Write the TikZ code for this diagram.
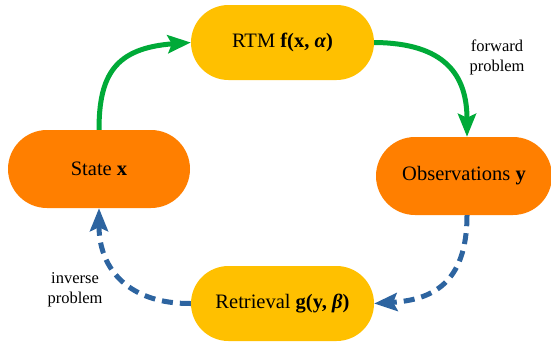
\documentclass[tikz,border=0pt]{standalone}
\usepackage{fontspec}
\setmainfont{Liberation Serif}
\usetikzlibrary{shapes.misc,arrows.meta}
\definecolor{gold}{HTML}{FFC000}
\definecolor{orng}{HTML}{FF7F00}
\definecolor{grn}{HTML}{00AA38}
\definecolor{blu}{HTML}{2D64A0}
\tikzset{
  pill/.style={rounded rectangle, draw=none, inner sep=0pt, font=\fontsize{20.5}{24}\selectfont},
  goldpill/.style={pill, fill=gold, minimum width=183pt, minimum height=75pt},
  orngpill/.style={pill, fill=orng, minimum height=78pt},
  fwd/.style={draw=grn, line width=5pt, -{Stealth[length=23pt,width=18pt,inset=4pt]}},
  inv/.style={draw=blu, line width=5pt, dash pattern=on 11pt off 7pt, -{Stealth[length=23pt,width=18pt,inset=4pt]}},
  lbl/.style={align=center, font=\fontsize{16.5}{20}\selectfont}
}
\begin{document}
\begin{tikzpicture}[x=1pt,y=-1pt]
\useasboundingbox (0,0) rectangle (551,346);
\node[goldpill] (R) at (282.5,42.5) {RTM \textbf{f(x,} \textbf{\textit{α}}\textbf{)}};
\node[goldpill] (T) at (282.5,303.5) {Retrieval \textbf{g(y,} \textbf{\textit{β}}\textbf{)}};
\node[orngpill, minimum width=182pt] (S) at (99,169) {State \textbf{x}};
\node[orngpill, minimum width=176pt] (O) at (464,176) {Observations \textbf{y}};
\draw[fwd] (S.north) .. controls (99,75) and (115,48) .. (R.west);
\draw[fwd] (R.east) .. controls (445,43) and (467,75) .. ([xshift=3pt]O.north);
\draw[inv] ([xshift=3pt]O.south) .. controls (467,285) and (430,300) .. (T.east);
\draw[inv] (T.west) .. controls (130,304) and (99,270) .. (S.south);
\node[lbl] (fl) at (497,57) {forward\\problem};
\node[lbl] (il) at (75,290) {inverse\\problem};
\end{tikzpicture}
\end{document}
